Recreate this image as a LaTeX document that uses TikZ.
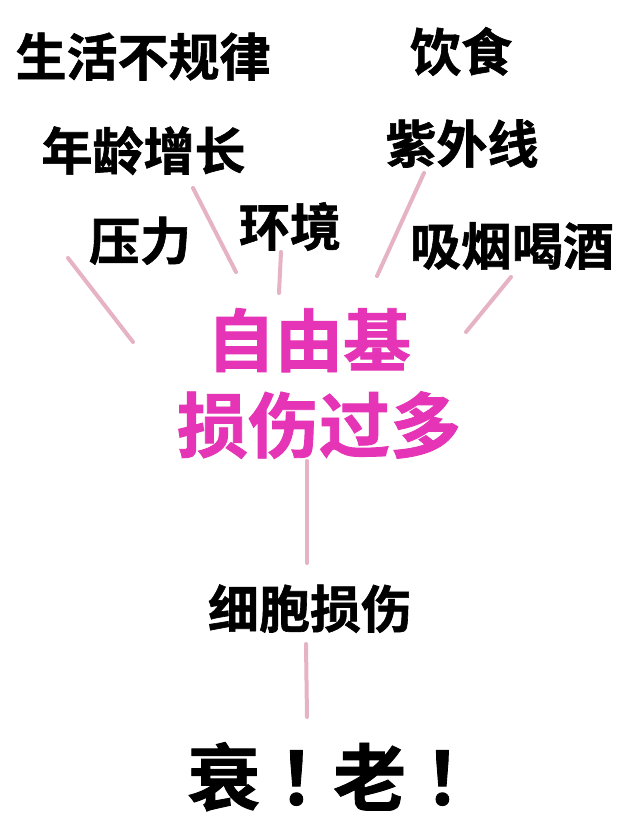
\documentclass[tikz,border=0pt]{standalone}
\usepackage{fontspec}
\newfontfamily\cjk{Noto Sans CJK SC}[UprightFont={* Bold}, UprightFeatures={FakeBold=1.2}]
\definecolor{magtext}{HTML}{E535B6}
\definecolor{linepink}{HTML}{E6B3C4}
\newcommand{\fwbang}{\kern18pt！\kern-18pt}
\tikzset{
  lbl/.style={inner sep=0pt, anchor=base, font=\cjk\fontsize{51}{51}\selectfont, text=black},
  big/.style={inner sep=0pt, anchor=base, font=\cjk\fontsize{68}{68}\selectfont, text=magtext},
  ray/.style={draw=linepink, line width=4pt, line cap=round}
}
\begin{document}
\begin{tikzpicture}[x=1pt,y=-1pt]
\useasboundingbox (0,0) rectangle (640,828);
\fill[white] (0,0) rectangle (640,828);
% labels
\node[lbl] (a) at (143,76) {生活不规律};
\node[lbl] (b) at (461,71) {饮食};
\node[lbl] (c) at (143.5,170) {年龄增长};
\node[lbl] (d) at (462,163) {紫外线};
\node[lbl] (e) at (140,260) {压力};
\node[lbl] (f) at (290,246) {环境};
\node[lbl] (g) at (512,265) {吸烟喝酒};
\node[big] (h) at (309,366) {自由基};
\node[big, font=\cjk\fontsize{71}{71}\selectfont] (i) at (319,452) {损伤过多};
\node[lbl] (j) at (310,628) {细胞损伤};
\node[inner sep=0pt, anchor=base west, font=\cjk\fontsize{73}{73}\selectfont] (k) at (187,805) {衰\fwbang 老\fwbang};
% ray ends
\coordinate (r1a) at (68,258);  \coordinate (r1b) at (133,342);
\coordinate (r2a) at (193,188); \coordinate (r2b) at (236,272);
\coordinate (r3a) at (281,252); \coordinate (r3b) at (279,293);
\coordinate (r4a) at (424,173); \coordinate (r4b) at (377,276);
\coordinate (r5a) at (511,277); \coordinate (r5b) at (466,332);
\coordinate (r6a) at (307,461); \coordinate (r6b) at (307,563);
\coordinate (r7a) at (306,644); \coordinate (r7b) at (307,717);
\draw[ray] (r1a) -- (r1b);
\draw[ray] (r2a) -- (r2b);
\draw[ray] (r3a) -- (r3b);
\draw[ray] (r4a) -- (r4b);
\draw[ray] (r5a) -- (r5b);
\draw[ray] (r6a) -- (r6b);
\draw[ray] (r7a) -- (r7b);
\end{tikzpicture}
\end{document}
